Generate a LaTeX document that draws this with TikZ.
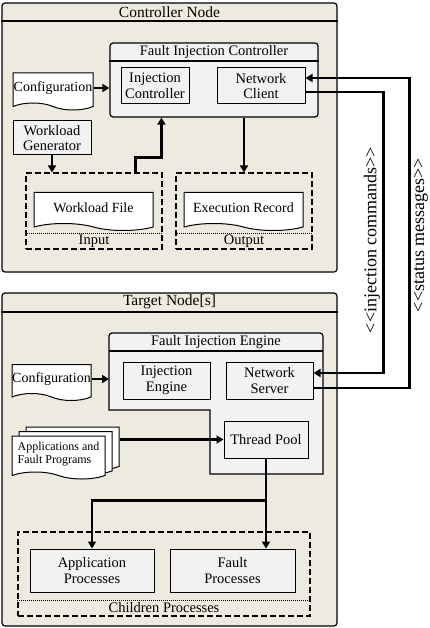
\documentclass[tikz,border=0pt]{standalone}
\usepackage{fontspec}
\setmainfont{Liberation Serif}
\usetikzlibrary{%
  positioning,
  calc,
  arrows.meta,
  shapes.symbols,
  shadows
}
\definecolor{nodebeige}{RGB}{237,234,224}
\definecolor{boxgray}{RGB}{242,242,242}
\newcommand{\stereo}[1]{<\kern0pt<#1>\kern0pt>}
\tikzset{
  frame/.style = {draw, fill = nodebeige, line width = 1.2pt, rounded corners = 3pt},
  module/.style = {draw, fill = boxgray, line width = 1.2pt, rounded corners = 3pt},
  unit/.style = {draw, fill = boxgray, line width = 1pt, align = center,
    inner sep = 0pt, font = \fontsize{14.5}{15.5}\selectfont},
  doc/.style = {tape, tape bend top = none, tape bend bottom = out and in,
    tape bend height = 7pt, draw, fill = white, line width = 1pt,
    inner sep = 0pt, align = center, font = \fontsize{14}{15}\selectfont},
  group/.style = {draw, dash pattern = on 6pt off 3pt, line width = 1.1pt},
  sep/.style = {dash pattern = on 1pt off 1pt, line width = 0.9pt},
  title/.style = {font = \fontsize{15.5}{16.5}\selectfont},
  caption/.style = {font = \fontsize{14.5}{15.5}\selectfont},
  stereotype/.style = {rotate = 90, font = \fontsize{18}{19}\selectfont},
  flow/.style = {line width = 2.4pt, -{Triangle[length = 7pt, width = 8pt]}}
}

\begin{document}
\begin{tikzpicture}[x = 1pt, y = -1pt]
  \useasboundingbox (0,0) rectangle (430,628);

  % controller node
  \node (ctrl) [frame, minimum width = 335, minimum height = 269] at (169.5,137.5) {};
  \draw [line width = 1.2pt] (ctrl.west |- 0,21) -- (ctrl.east |- 0,21);
  \node (ctrltitle) [title] at (169.5,12) {Controller Node};

  \node (fic) [module, minimum width = 208, minimum height = 74] at (214,80) {};
  \draw [line width = 1.2pt] (fic.west |- 0,61) -- (fic.east |- 0,61);
  \node (fictitle) [caption] at (214,52) {Fault Injection Controller};
  \node (ic) [unit, minimum width = 68, minimum height = 36] at (155,86)
    {Injection\\Controller};
  \node (nc) [unit, minimum width = 88, minimum height = 36, right = 27pt of ic]
    {Network\\Client};

  \node (cfgc) [doc, minimum width = 80, minimum height = 37] at (53,88) {Configuration};
  \node (wg) [unit, minimum width = 78, minimum height = 34] at (52,138)
    {Workload\\Generator};

  \node (input) [group, minimum width = 136, minimum height = 76] at (94,211) {};
  \draw [sep] (input.west |- 0,233) -- (input.east |- 0,233);
  \node (inputlabel) [caption] at (94,241) {Input};
  \node (wf) [doc, minimum width = 119, minimum height = 38] at (93.5,208) {Workload File};

  \node (output) [group, minimum width = 136, minimum height = 76] at (244,211) {};
  \draw [sep] (output.west |- 0,233) -- (output.east |- 0,233);
  \node (outputlabel) [caption] at (244,241) {Output};
  \node (er) [doc, minimum width = 119, minimum height = 38] at (243.5,208) {Execution Record};

  \draw [flow] (cfgc.east) -- (cfgc.east -| fic.west);
  \draw [flow] (wg.south) -- (wg.south |- input.north);
  \draw [flow] ([xshift = -27pt]input.north east) -- ++(0,-15) -| ([xshift = 52pt]fic.south west);
  \draw [flow] (fic.south -| output.north) -- (output.north);

  % target node
  \node (tgt) [frame, minimum width = 335, minimum height = 333] at (169.5,459.5) {};
  \draw [line width = 1.2pt] (tgt.west |- 0,312) -- (tgt.east |- 0,312);
  \node (tgttitle) [title] at (169.5,302) {Target Node[s]};

  \coordinate (fie nw) at (109,333);
  \coordinate (fie se) at (323,474);
  \draw [fill = boxgray, line width = 1.2pt] (109,410) [rounded corners = 3pt]
    -- (fie nw) -- (fie nw -| fie se) [sharp corners] -- (fie se)
    -- (210,474) -- (210,410) -- cycle;
  \draw [line width = 1.2pt] (fie nw |- 0,351) -- (fie se |- 0,351);
  \node (fietitle) [caption] at (216,342) {Fault Injection Engine};
  \node (ie) [unit, minimum width = 87, minimum height = 37] at (166.5,380.5)
    {Injection\\Engine};
  \node (ns) [unit, minimum width = 87, minimum height = 37, right = 15pt of ie]
    {Network\\Server};
  \node (tp) [unit, minimum width = 84, minimum height = 37] at (266,439.5) {Thread Pool};

  \node (cfgt) [doc, minimum width = 79, minimum height = 36] at (51.5,379) {Configuration};
  \node (apps) [doc, minimum width = 93, minimum height = 43, align = left,
    font = \fontsize{12}{13}\selectfont,
    double copy shadow = {shadow xshift = 7pt, shadow yshift = 4.5pt}]
    at (58.5,454) {Applications and\\Fault Programs};

  \node (children) [group, minimum width = 292, minimum height = 84] at (164,574) {};
  \draw [sep] (children.west |- 0,600) -- (children.east |- 0,600);
  \node (childrenlabel) [caption] at (164,608) {Children Processes};
  \node (ap) [unit, minimum width = 124, minimum height = 43] at (92,570.5)
    {Application\\Processes};
  \node (fp) [unit, minimum width = 125, minimum height = 43, right = 15pt of ap]
    {Fault\\Processes};

  \draw [flow] (cfgt.east) -- (cfgt.east -| fie nw);
  \draw [flow] ($(apps.east |- tp.west) + (14,0)$) -- (tp.west);
  \coordinate (split) at ($(tp.south) + (0,42)$);
  \draw [flow] (tp.south) -- (split) -| (ap.north);
  \draw [flow] (split) -- (tp.south |- fp.north);

  % links between the nodes
  \draw [flow] ([yshift = -6pt]nc.east) -- ++(78,0) |- ([yshift = 7.5pt]ns.east);
  \draw [flow] ([yshift = -7.5pt]ns.east) -- ++(96,0) |- ([yshift = 8pt]nc.east);
  \node (commands) [stereotype] at (372,240) {\stereo{injection commands}};
  \node (status) [stereotype] at (421,235) {\stereo{status messages}};
\end{tikzpicture}
\end{document}
